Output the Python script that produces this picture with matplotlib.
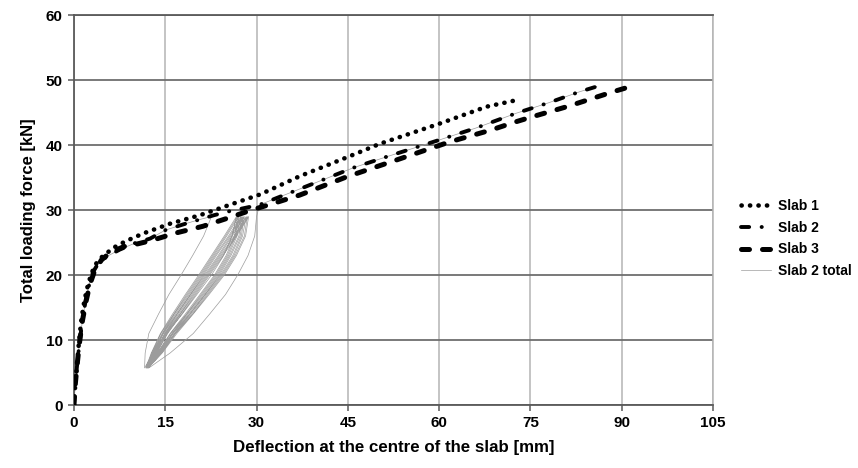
import numpy as np
import matplotlib
matplotlib.use("Agg")
import matplotlib.pyplot as plt

plt.rcParams["font.family"] = ["Liberation Sans", "DejaVu Sans"]
plt.rcParams["font.weight"] = "bold"

# --- monotonic load-deflection curves: deflection [mm], force [kN] ---
slab1_x = [0, 0.2, 0.5, 0.8, 1.2, 1.7, 2.3, 2.9, 3.6, 4.5, 6.5, 8.5, 11.4, 15.8,
           20.7, 25.6, 30.6, 37.1, 45.1, 50.3, 60.1, 67.8, 72.7]
slab1_y = [0, 3, 6, 9.5, 13, 16, 18.5, 20.3, 21.7, 22.7, 24.2, 25.2, 26.4, 27.9,
           29.2, 30.8, 32.4, 35.2, 38.2, 40.2, 43.3, 45.9, 46.9]

slab2_x = [0, 0.2, 0.5, 0.9, 1.4, 1.9, 2.5, 3.1, 4.0, 5.5, 7.5, 10, 12.5, 15, 18,
           20.5, 23, 25.5, 30.5, 34, 37, 45.9, 51.4, 60.1, 66, 72.7, 78, 83.1, 85.9]
slab2_y = [0, 3, 6, 9.5, 13, 16, 18.5, 20.4, 21.8, 22.9, 23.9, 24.9, 25.6, 26.9, 27.8,
           28.5, 29.2, 29.8, 30.8, 32.1, 33.2, 36.5, 38.2, 40.8, 42.6, 44.9, 46.5, 48.2, 49.0]

slab3_x = [0, 0.2, 0.5, 0.9, 1.4, 2.0, 2.6, 3.3, 4.5, 6.0, 8.3, 10.5, 12.7, 16.9, 21.2,
           25.1, 29.2, 32.7, 37.1, 44.8, 53.0, 61.8, 68.5, 72.7, 75.5, 81.0, 88.6, 91.8]
slab3_y = [0, 3, 6, 9.5, 13, 16, 18.5, 20.4, 22.3, 23.5, 24.4, 24.8, 25.3, 26.5, 27.5,
           28.7, 30.0, 31.0, 32.3, 35.1, 37.7, 40.5, 42.3, 43.6, 44.4, 45.9, 48.2, 49.1]

# --- slab 2 load cycles: deflection at fixed force levels, per cycle ---
loop_f = [5.7, 8, 11, 14, 17, 20, 23, 26, 29]
# unloading branches (listed bottom -> top)
loop_down = [
    [11.6, 11.7, 12.3, 13.9, 15.6, 17.6, 19.5, 21.3, 22.6],
    [11.8, 12.7, 14.2, 16.2, 18.3, 20.5, 22.6, 24.7, 26.7],
    [11.9, 12.8, 14.3, 16.4, 18.5, 20.7, 22.8, 24.9, 26.9],
    [11.9, 12.9, 14.5, 16.5, 18.7, 20.9, 23.0, 25.1, 27.1],
    [12.0, 13.0, 14.6, 16.7, 18.9, 21.1, 23.2, 25.4, 27.4],
    [12.0, 13.1, 14.7, 16.9, 19.1, 21.3, 23.4, 25.6, 27.6],
    [12.1, 13.2, 14.9, 17.0, 19.2, 21.5, 23.7, 25.8, 27.8],
    [12.1, 13.3, 15.0, 17.2, 19.4, 21.7, 23.9, 26.0, 28.0],
    [12.2, 13.4, 15.1, 17.4, 19.6, 21.9, 24.1, 26.3, 28.3],
    [12.2, 13.5, 15.3, 17.5, 19.8, 22.1, 24.3, 26.5, 28.5],
    [12.3, 13.6, 15.4, 17.7, 20.0, 22.3, 24.5, 26.7, 28.7],
]
# reloading branches (bottom -> top)
loop_up = [
    [11.6, 13.0, 15.2, 17.8, 20.2, 22.6, 24.6, 26.0, 26.7],
    [11.8, 13.7, 15.8, 18.3, 20.7, 23.1, 25.0, 26.4, 26.9],
    [11.9, 13.8, 15.9, 18.5, 20.9, 23.3, 25.2, 26.6, 27.1],
    [11.9, 13.9, 16.1, 18.6, 21.1, 23.5, 25.4, 26.8, 27.4],
    [12.0, 14.0, 16.2, 18.8, 21.3, 23.7, 25.6, 27.1, 27.6],
    [12.0, 14.1, 16.3, 19.0, 21.5, 23.9, 25.8, 27.3, 27.8],
    [12.1, 14.2, 16.5, 19.1, 21.6, 24.1, 26.1, 27.5, 28.0],
    [12.1, 14.3, 16.6, 19.3, 21.8, 24.3, 26.3, 27.7, 28.3],
    [12.2, 14.4, 16.7, 19.5, 22.0, 24.5, 26.5, 28.0, 28.5],
    [12.2, 14.5, 16.9, 19.6, 22.2, 24.7, 26.7, 28.2, 28.7],
    [12.3, 15.8, 19.6, 22.3, 24.9, 26.9, 28.6, 29.7, 30.0],
]

# full slab 2 history: envelope up to first unloading, cycles, then envelope again
s2x = np.array(slab2_x); s2y = np.array(slab2_y)
pre = s2x <= 20.5
post = s2x >= 30.5
tot_x = list(s2x[pre]); tot_y = list(s2y[pre])
for down, up in zip(loop_down, loop_up):
    tot_x += down[::-1] + up
    tot_y += loop_f[::-1] + loop_f
tot_x += list(s2x[post]); tot_y += list(s2y[post])

fig = plt.figure(figsize=(8.58, 4.68), dpi=100)
ax = fig.add_axes([0.0862, 0.1346, 0.7448, 0.8333])

ax.plot(tot_x, tot_y, color="#9c9c9c", lw=0.5, label="Slab 2 total", zorder=2)
ax.plot(slab1_x, slab1_y, color="black", lw=3.3, dashes=(0.05, 1.8),
        dash_capstyle="round", label="Slab 1", zorder=4)
ax.plot(slab2_x, slab2_y, color="black", lw=2.8, dashes=(2.1, 3.2, 0.05, 3.2),
        dash_capstyle="round", label="Slab 2", zorder=4)
ax.plot(slab3_x, slab3_y, color="black", lw=3.6, dashes=(1.6, 2.6),
        dash_capstyle="round", label="Slab 3", zorder=4)

ax.set_xlim(0, 105)
ax.set_ylim(0, 60)
ax.set_xticks(np.arange(0, 106, 15))
ax.set_yticks(np.arange(0, 61, 10))
ax.yaxis.grid(True, color="#6e6e6e", lw=1.3)
ax.xaxis.grid(True, color="#b4b4b4", lw=1.1)
ax.set_axisbelow(True)
for side in ("left", "bottom", "top"):
    ax.spines[side].set_color("#5a5a5a")
    ax.spines[side].set_linewidth(1.3)
ax.spines["right"].set_color("#b4b4b4")
ax.spines["right"].set_linewidth(1.1)
ax.tick_params(direction="out", length=4, width=1.1, color="#5a5a5a",
               labelsize=11, pad=4)
for lab in ax.get_xticklabels() + ax.get_yticklabels():
    lab.set_fontweight("bold")

ax.set_xlabel("Deflection at the centre of the slab [mm]", fontsize=12.2,
              fontweight="bold", labelpad=7)
ax.set_ylabel("Total loading force [kN]", fontsize=12, fontweight="bold", labelpad=7)

h, l = ax.get_legend_handles_labels()
order = [1, 2, 3, 0]
fig.legend([h[i] for i in order], [l[i] for i in order], loc="center left",
           bbox_to_anchor=(0.849, 0.49), frameon=False,
           prop={"size": 10, "weight": "bold"},
           handlelength=2.2, handletextpad=0.45, labelspacing=0.55)

fig.savefig("out.png", dpi=100)
